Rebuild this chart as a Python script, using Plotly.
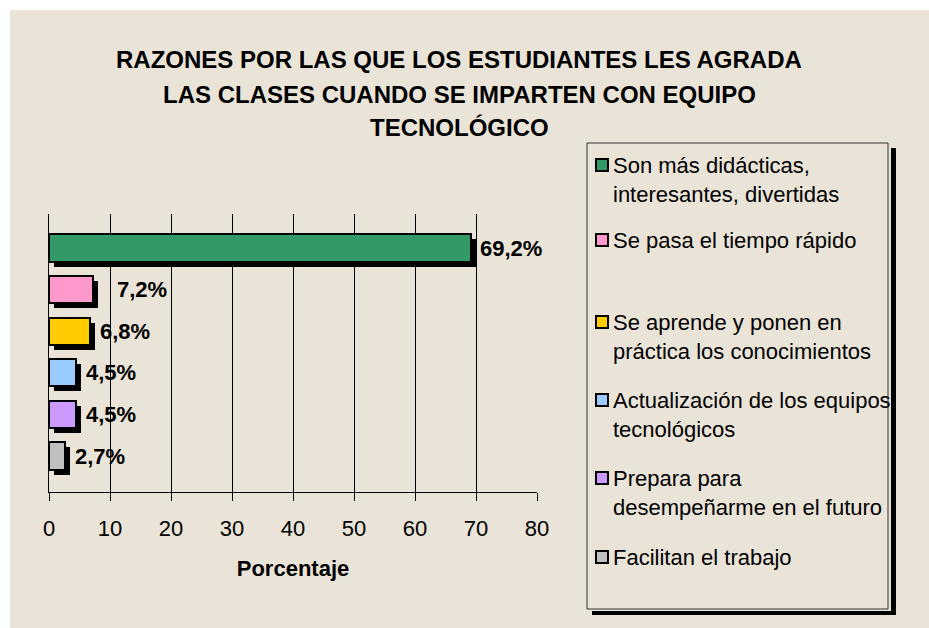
import plotly.graph_objects as go

# ---- data ----
categories = [
    "Son más didácticas,<br>interesantes, divertidas",
    "Se pasa el tiempo rápido",
    "Se aprende y ponen en<br>práctica los conocimientos",
    "Actualización de los equipos<br>tecnológicos",
    "Prepara para<br>desempeñarme en el futuro",
    "Facilitan el trabajo",
]
values = [69.2, 7.2, 6.8, 4.5, 4.5, 2.7]
value_labels = ["69,2%", "7,2%", "6,8%", "4,5%", "4,5%", "2,7%"]
colors = ["#339966", "#FF99CC", "#FFCC00", "#99CCFF", "#CC99FF", "#C0C0C0"]
title_lines = [
    "RAZONES POR LAS QUE LOS ESTUDIANTES LES AGRADA",
    "LAS CLASES CUANDO SE IMPARTEN CON EQUIPO",
    "TECNOLÓGICO",
]
x_ticks = [0, 10, 20, 30, 40, 50, 60, 70, 80]
x_title = "Porcentaje"

# ---- layout geometry (screen pixels; body margin removed below) ----
W, H = 929, 628
PL, PR, PT, PB = 49, 537, 214, 492
FONT = "Arial, Liberation Sans, sans-serif"
BG = "#EAE4D8"


def px(x):
    return (x - PL) / (PR - PL)


def py(y):
    return (PB - y) / (PB - PT)


ycat = [str(i) for i in range(len(categories))]
unit = 41.6  # pixels per category
top_v = -(248 - PT) / unit
bot_v = 5 + (PB - 456) / unit
sh = 5 / unit
xunit = (PR - PL) / 80.0

fig = go.Figure()

# shadows (on y, shifted down)
fig.add_trace(go.Bar(
    y=ycat, x=values, base=5 / xunit, orientation="h",
    marker=dict(color="black", line=dict(width=0)),
    width=0.65, yaxis="y", xaxis="x", showlegend=False, hoverinfo="skip",
))
# real bars (on y2, drawn above)
fig.add_trace(go.Bar(
    y=ycat, x=values, orientation="h",
    marker=dict(color=colors, line=dict(color="black", width=2)),
    width=0.65, yaxis="y2", xaxis="x", showlegend=False,
    hovertext=[c.replace("<br>", " ") for c in categories], hoverinfo="text+x",
))

annotations = []
shifts = [7, 22, 8, 8, 8, 8]
for yc, v, lab, s in zip(ycat, values, value_labels, shifts):
    annotations.append(dict(
        x=v, y=yc, xref="x", yref="y2", text="<b>%s</b>" % lab,
        showarrow=False, xanchor="left", yanchor="middle", xshift=s,
        font=dict(family=FONT, size=22, color="black"),
    ))

for line, yy in zip(title_lines, [60, 94, 128]):
    annotations.append(dict(
        x=px(459), y=py(yy), xref="paper", yref="paper",
        text="<b>%s</b>" % line, showarrow=False,
        xanchor="center", yanchor="middle",
        font=dict(family=FONT, size=24, color="black"),
    ))

shapes = [
    # white outer strips (top and left)
    dict(type="rect", xref="paper", yref="paper", x0=px(-5), x1=px(940),
         y0=py(-5), y1=py(10), fillcolor="white", line=dict(width=0), layer="below"),
    dict(type="rect", xref="paper", yref="paper", x0=px(-5), x1=px(10),
         y0=py(-5), y1=py(640), fillcolor="white", line=dict(width=0), layer="below"),
    # legend shadow
    dict(type="rect", xref="paper", yref="paper", x0=px(891), x1=px(896),
         y0=py(148), y1=py(615), fillcolor="black", line=dict(width=0)),
    dict(type="rect", xref="paper", yref="paper", x0=px(592), x1=px(896),
         y0=py(611), y1=py(615), fillcolor="black", line=dict(width=0)),
    # legend box
    dict(type="rect", xref="paper", yref="paper", x0=px(587), x1=px(888),
         y0=py(143), y1=py(609), line=dict(color="#333333", width=1)),
]

item_y = [165, 240, 322, 400, 478, 557]
for cat, col, yy in zip(categories, colors, item_y):
    shapes.append(dict(
        type="rect", xref="paper", yref="paper", x0=px(596), x1=px(608),
        y0=py(yy - 6), y1=py(yy + 6), fillcolor=col,
        line=dict(color="black", width=2),
    ))
    annotations.append(dict(
        x=px(611), y=py(yy - 14), xref="paper", yref="paper", text=cat,
        showarrow=False, xanchor="left", yanchor="top", align="left",
        font=dict(family=FONT, size=22, color="black"),
    ))

fig.update_layout(
    width=W, height=H,
    margin=dict(l=PL, r=W - PR, t=PT, b=H - PB, pad=0),
    paper_bgcolor=BG, plot_bgcolor="rgba(0,0,0,0)",
    barmode="overlay", bargap=0,
    xaxis=dict(
        range=[0, 80], tickvals=x_ticks, ticktext=[str(t) for t in x_ticks],
        showgrid=True, gridcolor="black", gridwidth=1, zeroline=False,
        showline=True, linecolor="black", linewidth=1,
        ticks="outside", ticklen=8, tickcolor="black", ticklabelstandoff=9,
        tickfont=dict(family=FONT, size=22, color="black"),
        title=dict(text="<b>%s</b>" % x_title, standoff=20,
                   font=dict(family=FONT, size=22, color="black")),
        fixedrange=True,
    ),
    yaxis=dict(
        type="category", categoryorder="array", categoryarray=ycat,
        range=[bot_v - sh, top_v - sh], showticklabels=False, showgrid=False,
        zeroline=False, showline=False, ticks="", fixedrange=True,
    ),
    yaxis2=dict(
        type="category", categoryorder="array", categoryarray=ycat,
        overlaying="y", side="left",
        range=[bot_v, top_v], showticklabels=False, showgrid=False,
        zeroline=False, showline=True, linecolor="black", linewidth=1,
        ticks="", fixedrange=True,
    ),
    annotations=annotations,
    shapes=shapes,
    showlegend=False,
    font=dict(family=FONT, color="black"),
)

fig.write_html(
    "out.html",
    config={"displayModeBar": False},
    post_script=(
        "document.body.style.margin='0px';"
        "document.body.style.overflow='hidden';"
        "document.body.style.background='%s';" % BG
    ),
)
